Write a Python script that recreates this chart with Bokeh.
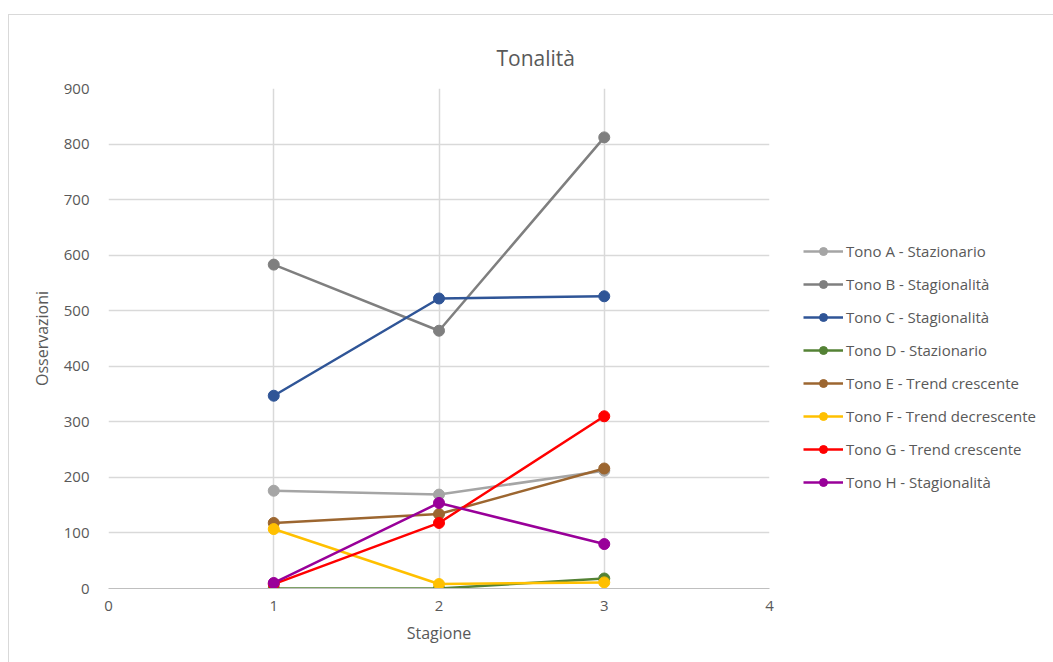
from bokeh.plotting import figure
from bokeh.models import Legend, LegendItem, FixedTicker, Range1d, Row
from bokeh.embed import file_html
from bokeh.resources import INLINE

# Seasons on the x axis
stagioni = [1, 2, 3]

# Observations per tone
tono_a = [176, 169, 212]
tono_b = [583, 464, 812]
tono_c = [347, 522, 526]
tono_d = [0, 0, 18]
tono_e = [118, 134, 216]
tono_f = [107, 8, 11]
tono_g = [8, 118, 310]
tono_h = [10, 154, 80]

nomi = [
    "Tono A - Stazionario",
    "Tono B - Stagionalità",
    "Tono C - Stagionalità",
    "Tono D - Stazionario",
    "Tono E - Trend crescente",
    "Tono F - Trend decrescente",
    "Tono G - Trend crescente",
    "Tono H - Stagionalità",
]
serie = [tono_a, tono_b, tono_c, tono_d, tono_e, tono_f, tono_g, tono_h]
colori = ["#a5a5a5", "#7f7f7f", "#2f5597", "#548235",
          "#9c6630", "#ffc000", "#ff0000", "#990099"]

y_ticks = [0, 100, 200, 300, 400, 500, 600, 700, 800, 900]
x_ticks = [0, 1, 2, 3, 4]

FONT = "Open Sans"
TXT = "#595959"
GRID = "#d9d9d9"
H = 652

# Main plot area
p = figure(
    width=782, height=H,
    output_backend="svg", toolbar_location=None,
    x_range=Range1d(0, 4), y_range=Range1d(0, 900),
    min_border_left=99, min_border_top=73, min_border_bottom=79, min_border_right=22,
)
p.outline_line_color = None

p.title.text = "Tonalità"
p.title.align = "left"
p.title.offset = 388
p.title.vertical_align = "top"
p.title.text_font = FONT
p.title.text_font_size = "21px"
p.title.text_font_style = "normal"
p.title.text_color = TXT
p.title.standoff = 30

p.xaxis.ticker = FixedTicker(ticks=x_ticks)
p.yaxis.ticker = FixedTicker(ticks=y_ticks)
for ax in (p.xaxis[0], p.yaxis[0]):
    ax.major_tick_line_color = None
    ax.minor_tick_line_color = None
    ax.major_label_text_font = FONT
    ax.major_label_text_font_size = "15px"
    ax.major_label_text_color = TXT
    ax.axis_label_text_font = FONT
    ax.axis_label_text_font_size = "16px"
    ax.axis_label_text_font_style = "normal"
    ax.axis_label_text_color = TXT
p.xaxis.axis_line_color = "#bfbfbf"
p.yaxis.axis_line_color = None
p.xaxis.axis_label = "Stagione"
p.yaxis.axis_label = "Osservazioni"
p.xaxis.major_label_standoff = 6
p.yaxis.major_label_standoff = 13
p.xaxis.axis_label_standoff = 8
p.yaxis.axis_label_standoff = 8

p.xgrid.grid_line_color = GRID
p.ygrid.grid_line_color = GRID
p.xgrid.grid_line_width = 1.5
p.ygrid.grid_line_width = 1.5

for nome, vals, col in zip(nomi, serie, colori):
    p.line(stagioni, vals, line_color=col, line_width=2.5)
    p.scatter(stagioni, vals, size=11, fill_color=col, line_color=col)

# Side panel holding the legend. Its key renderers carry the same series,
# but the panel's x range lies outside the seasons, so only the keys show.
lg = figure(
    width=263, height=H,
    output_backend="svg", toolbar_location=None,
    x_range=Range1d(10, 11), y_range=Range1d(0, 900),
    min_border_left=0, min_border_top=0, min_border_bottom=0, min_border_right=0,
)
lg.axis.visible = False
lg.grid.visible = False
lg.outline_line_color = None

items = []
for nome, vals, col in zip(nomi, serie, colori):
    ln = lg.line(stagioni, vals, line_color=col, line_width=2.5)
    pt = lg.scatter(stagioni, vals, size=11, fill_color=col, line_color=col)
    items.append(LegendItem(label=nome, renderers=[ln, pt]))

legend = Legend(
    items=items,
    location=(12, 96),
    border_line_color=None,
    background_fill_alpha=0,
    label_text_font=FONT,
    label_text_font_size="15px",
    label_text_color=TXT,
    glyph_width=40,
    glyph_height=20,
    label_height=20,
    spacing=13,
    label_standoff=3,
    padding=0,
    margin=0,
)
lg.add_layout(legend, "center")

chart = Row(children=[p, lg])
chart.margin = (14, 0, 0, 8)
chart.styles = {"border": "1px solid #d9d9d9", "gap": "0px"}
chart.spacing = 0

open("out.html", "w").write(file_html(chart, INLINE))
